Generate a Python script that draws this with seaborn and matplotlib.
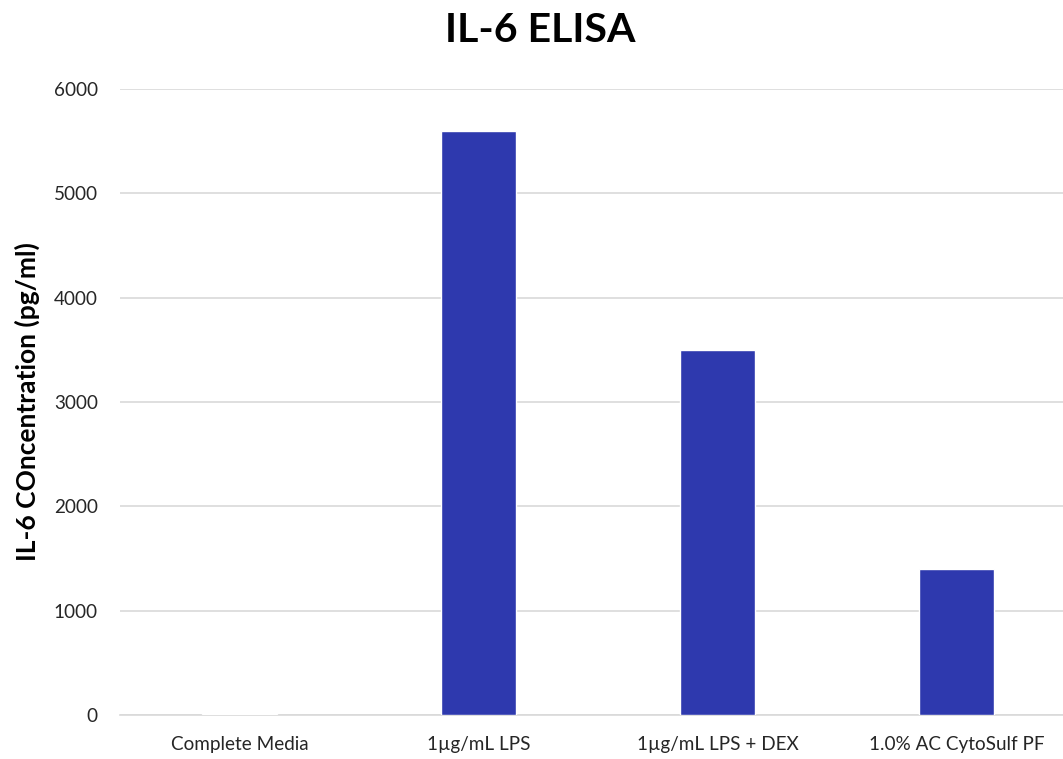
import matplotlib
matplotlib.use("Agg")
import matplotlib.pyplot as plt
import seaborn as sns
import pandas as pd

categories = ["Complete Media", "1µg/mL LPS", "1µg/mL LPS + DEX", "1.0% AC CytoSulf PF"]
il6_values = [10, 5600, 3500, 1400]
y_ticks = [0, 1000, 2000, 3000, 4000, 5000, 6000]

sns.set_theme(style="white")
plt.rcParams["font.family"] = ["Lato", "DejaVu Sans"]

df = pd.DataFrame({"group": categories, "il6": il6_values})

fig = plt.figure(figsize=(10.63, 7.59), dpi=100)
ax = fig.add_axes([120 / 1063, 1 - 715 / 759, (1063 - 120) / 1063, (715 - 89) / 759])

sns.barplot(data=df, x="group", y="il6", color="#2E39AE", saturation=1,
            width=0.314, ax=ax, zorder=3)

ax.set_xlim(-0.5, 3.5 - 13.5 / 239)
ax.set_ylim(0, 6000)
ax.set_yticks(y_ticks)
ax.set_yticklabels([str(t) for t in y_ticks], fontsize=13.6, color="#262626")
ax.tick_params(axis="x", labelsize=13.6, labelcolor="#262626", length=0, pad=15)
ax.tick_params(axis="y", length=0, pad=16)
ax.yaxis.grid(True, color="#D9D9D9", linewidth=1.2, zorder=0)
ax.set_axisbelow(True)
for side in ["top", "right", "left"]:
    ax.spines[side].set_visible(False)
ax.spines["bottom"].set_color("#D9D9D9")
ax.spines["bottom"].set_linewidth(1.2)

ax.set_xlabel("")
ax.set_ylabel("IL-6 COncentration (pg/ml)", fontsize=19, fontweight="bold",
              color="black", labelpad=10)
fig.text(540 / 1063, 1 - 30 / 759, "IL-6 ELISA", ha="center", va="center",
         fontsize=29.5, fontweight="bold", color="black")

fig.savefig("out.png", dpi=100, facecolor="white")
